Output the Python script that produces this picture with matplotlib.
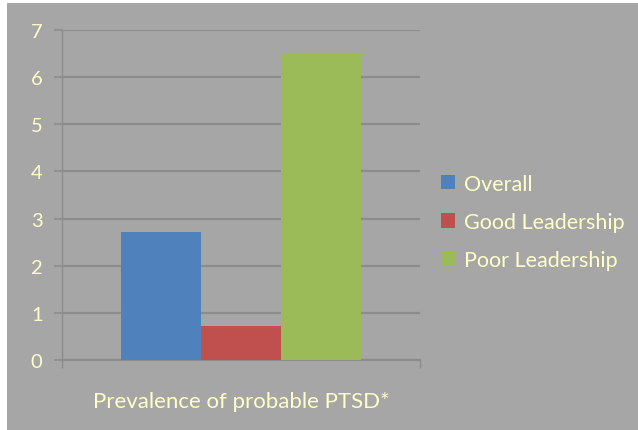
import matplotlib.pyplot as plt
from matplotlib.patches import Rectangle

# Data
category = "Prevalence of probable PTSD*"
series = ["Overall", "Good Leadership", "Poor Leadership"]
values = [2.72, 0.72, 6.5]
colors = ["#4F81BD", "#C0504D", "#9BBB59"]
yticks = [0, 1, 2, 3, 4, 5, 6, 7]

W, H = 638, 431
DPI = 100
bg = "#A6A6A6"
grid_c = "#8C8C8C"
txt_c = "#FFFFC8"

plt.rcParams['font.family'] = ['Lato', 'DejaVu Sans']

fig = plt.figure(figsize=(W / DPI, H / DPI), dpi=DPI, facecolor="white")
# slide panel behind the chart
fig.patches.append(Rectangle((7 / W, 0), 1 - 7 / W, 1 - 4 / H,
                             transform=fig.transFigure, facecolor=bg,
                             edgecolor="none", zorder=-10))

ax = fig.add_axes([62 / W, 70 / H, (420 - 62) / W, 330 / H])
ax.set_facecolor("none")

xs = [-1, 0, 1]
for x, v, c, name in zip(xs, values, colors, series):
    ax.bar(x, v, width=1.0, color=c, label=name, zorder=3)

half = 358 / 80 / 2
ax.set_xlim(-half, half)
ax.set_ylim(0, 7)
ax.set_yticks(yticks)
ax.set_yticklabels([str(t) for t in yticks])
ax.yaxis.grid(True, color=grid_c, linewidth=1.6, zorder=1)
ax.set_axisbelow(True)

for s in ["top", "right"]:
    ax.spines[s].set_visible(False)
ax.spines["left"].set_color(grid_c)
ax.spines["left"].set_linewidth(1.0)
ax.spines["bottom"].set_color(grid_c)
ax.spines["bottom"].set_linewidth(1.6)

ax.tick_params(axis="y", direction="out", length=6, width=1.2, color=grid_c,
               labelcolor=txt_c, labelsize=14.5, pad=8)
ax.set_xticks([-half, half])
ax.set_xticklabels(["", ""])
ax.tick_params(axis="x", direction="out", length=6, width=1.0, color=grid_c)

ax.set_xlabel(category, color=txt_c, fontsize=16, labelpad=13)

leg = ax.legend(loc="center left", bbox_to_anchor=(424 / W, 208 / H),
                bbox_transform=fig.transFigure, frameon=False,
                fontsize=15.5, handlelength=0.65, handleheight=0.65,
                handletextpad=0.4, labelspacing=0.85, borderpad=0.3)
for t in leg.get_texts():
    t.set_color(txt_c)

fig.savefig("out.png", dpi=DPI, facecolor=fig.get_facecolor())
